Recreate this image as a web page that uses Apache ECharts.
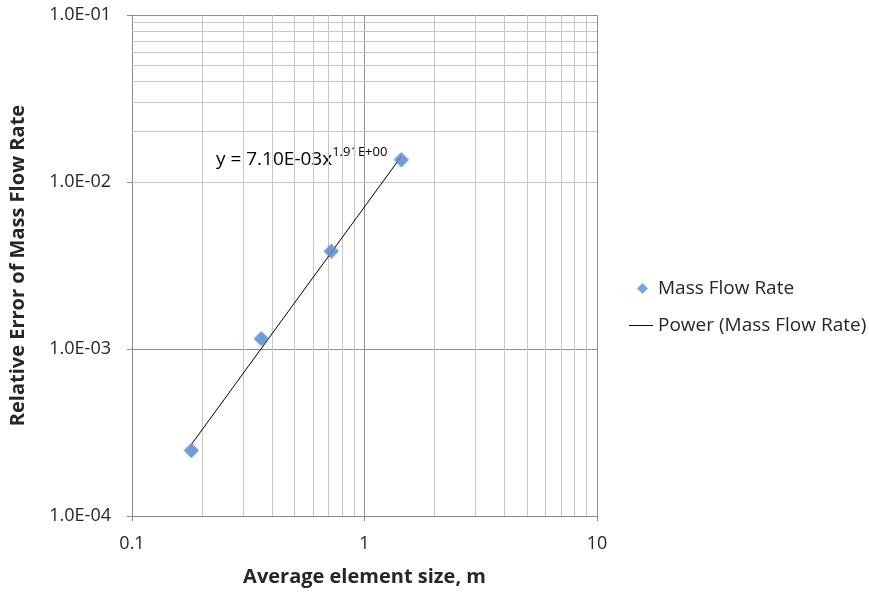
<!DOCTYPE html>
<html>
<head>
<meta charset="utf-8">
<script src="https://cdn.jsdelivr.net/npm/echarts@6/dist/echarts.min.js"></script>
<style>
  html, body { margin: 0; padding: 0; background: #fff; }
  #chart { width: 869px; height: 592px; }
</style>
</head>
<body>
<div id="chart"></div>
<script>
// element size (m) vs relative error of mass flow rate
const elementSize = [0.18, 0.36, 0.72, 1.44];
const relError = [2.47e-4, 1.15e-3, 3.85e-3, 1.36e-2];

// power trend line end points (y = 7.10E-03 x^1.91)
const trendX = [0.18, 1.44];
const trendY = [2.68e-4, 1.425e-2];

const xMinorGrid = [0.2, 0.3, 0.4, 0.5, 0.6, 0.7, 0.8, 0.9, 2, 3, 4, 5, 6, 7, 8, 9];
const yMinorGrid = [
  2e-4, 3e-4, 4e-4, 5e-4, 6e-4, 7e-4, 8e-4, 9e-4,
  2e-3, 3e-3, 4e-3, 5e-3, 6e-3, 7e-3, 8e-3, 9e-3,
  2e-2, 3e-2, 4e-2, 5e-2, 6e-2, 7e-2, 8e-2, 9e-2
];

const font = '"Open Sans", "Liberation Sans", sans-serif';
const textColor = '#262626';

const fmtExp = v => {
  const e = Math.round(Math.log10(v));
  return '1.0E' + (e < 0 ? '-' : '+') + String(Math.abs(e)).padStart(2, '0');
};

const chart = echarts.init(document.getElementById('chart'), null, { renderer: 'canvas' });

const minorLines = [
  ...xMinorGrid.map(v => ({ xAxis: v })),
  ...yMinorGrid.map(v => ({ yAxis: v }))
];

const option = {
  animation: false,
  backgroundColor: '#ffffff',
  grid: { left: 132, right: 272, top: 15, bottom: 76 },
  xAxis: {
    type: 'log',
    logBase: 10,
    min: 0.1,
    max: 10,
    name: 'Average element size, m',
    nameLocation: 'middle',
    nameGap: 51,
    nameTextStyle: { fontFamily: font, fontSize: 20, fontWeight: 'bold', color: textColor },
    axisLine: { lineStyle: { color: '#8a8a8a', width: 1 } },
    axisTick: { show: true, length: 5, lineStyle: { color: '#8a8a8a' } },
    axisLabel: {
      fontFamily: font, fontSize: 18, color: textColor, margin: 19,
      formatter: v => String(+(+v).toPrecision(3))
    },
    splitLine: { show: true, lineStyle: { color: '#8f8f8f', width: 1 } },
    minorTick: { show: false },
    minorSplitLine: { show: false }
  },
  yAxis: {
    type: 'log',
    logBase: 10,
    min: 1e-4,
    max: 1e-1,
    name: 'Relative Error of Mass Flow Rate',
    nameLocation: 'middle',
    nameGap: 104,
    nameRotate: 90,
    nameTextStyle: { fontFamily: font, fontSize: 20, fontWeight: 'bold', color: textColor },
    axisLine: { show: true, lineStyle: { color: '#8a8a8a', width: 1 } },
    axisTick: { show: true, length: 5, lineStyle: { color: '#8a8a8a' } },
    axisLabel: { fontFamily: font, fontSize: 18, color: textColor, margin: 21, formatter: fmtExp },
    splitLine: { show: true, lineStyle: { color: '#8f8f8f', width: 1 } }
  },
  legend: [
    {
      data: [{ name: 'Mass Flow Rate', icon: 'diamond' }],
      left: 632, top: 274,
      itemWidth: 11, itemHeight: 11,
      textStyle: { fontFamily: font, fontSize: 19, color: textColor, padding: [0, 0, 0, 5] }
    },
    {
      data: [{ name: 'Power (Mass Flow Rate)', icon: 'path://M0,0 L1,0 L1,0.04 L0,0.04 Z' }],
      left: 624, top: 311,
      itemWidth: 24, itemHeight: 20,
      textStyle: { fontFamily: font, fontSize: 19, color: textColor }
    }
  ],
  graphic: [
    {
      type: 'text',
      left: 216, top: 146,
      style: {
        text: '{a|y = 7.10E-03x}{s|1.91E+00}',
        fontFamily: font,
        rich: {
          a: { fontFamily: font, fontSize: 19, color: textColor, lineHeight: 23, verticalAlign: 'bottom' },
          s: { fontFamily: font, fontSize: 13, color: textColor, lineHeight: 23, verticalAlign: 'top' }
        }
      }
    }
  ],
  series: [
    {
      name: 'Power (Mass Flow Rate)',
      type: 'line',
      data: trendX.map((x, i) => [x, trendY[i]]),
      symbol: 'none',
      itemStyle: { color: '#000000' },
      lineStyle: { color: '#000000', width: 1 },
      z: 3,
      markLine: {
        silent: true,
        symbol: ['none', 'none'],
        label: { show: false },
        lineStyle: { color: '#c6c6c6', width: 1, type: 'solid' },
        z: 1,
        data: minorLines
      }
    },
    {
      name: 'Mass Flow Rate',
      type: 'scatter',
      data: elementSize.map((x, i) => [x, relError[i]]),
      symbol: 'diamond',
      symbolSize: 15,
      itemStyle: {
        color: '#5b8fd2',
        shadowColor: 'rgba(40,70,120,0.35)',
        shadowBlur: 3
      },
      z: 4
    }
  ]
};

chart.setOption(option);
</script>
</body>
</html>
